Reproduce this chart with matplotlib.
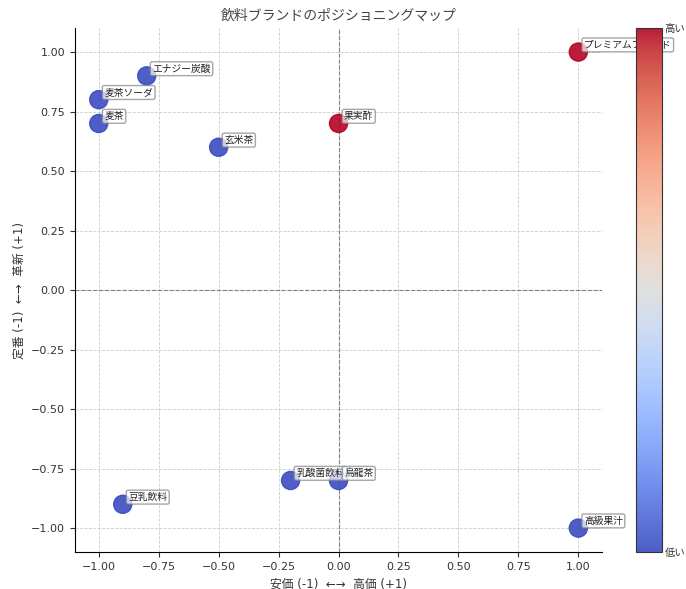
import numpy as np
import matplotlib
matplotlib.use("Agg")
import matplotlib.pyplot as plt

plt.rcParams['font.family'] = ['DejaVu Sans', 'Noto Sans CJK JP']

# データ
names = ["プレミアムブレンド", "果実酢", "玄米茶", "エナジー炭酸", "麦茶ソーダ",
         "麦茶", "乳酸菌飲料", "烏龍茶", "豆乳飲料", "高級果汁"]
x_vals = [1.0, 0.0, -0.5, -0.8, -1.0, -1.0, -0.2, 0.0, -0.9, 1.0]
y_vals = [1.0, 0.7, 0.6, 0.9, 0.8, 0.7, -0.8, -0.8, -0.9, -1.0]
scores = [1, 1, 0, 0, 0, 0, 0, 0, 0, 0]
x_ticks = [-1.0, -0.75, -0.5, -0.25, 0.0, 0.25, 0.5, 0.75, 1.0]
y_ticks = [-1.0, -0.75, -0.5, -0.25, 0.0, 0.25, 0.5, 0.75, 1.0]
cbar_labels = ["低い", "高い"]

fig = plt.figure(figsize=(6.86, 5.89), dpi=100)
ax = fig.add_axes([0.109, 0.063, 0.769, 0.889])
cax = fig.add_axes([0.927, 0.063, 0.038, 0.889])

ax.grid(True, linestyle='--', color='#cccccc', linewidth=0.6)
ax.set_axisbelow(True)
ax.axhline(0, color='gray', linestyle='--', linewidth=0.8)
ax.axvline(0, color='gray', linestyle='--', linewidth=0.8)

sc = ax.scatter(x_vals, y_vals, c=scores, cmap='coolwarm', s=170, alpha=0.9,
                vmin=0, vmax=1, zorder=3)

for name, xv, yv in zip(names, x_vals, y_vals):
    ax.annotate(name, (xv, yv), xytext=(4, 3), textcoords='offset points',
                fontsize=7, color='#222222', annotation_clip=False,
                bbox=dict(boxstyle='round,pad=0.2', fc='white', ec='gray', alpha=0.7),
                zorder=4)

ax.set_xlim(-1.1, 1.1)
ax.set_ylim(-1.1, 1.1)
ax.set_xticks(x_ticks)
ax.set_yticks(y_ticks)
ax.tick_params(labelsize=8, colors='#333333')
for s in ['top', 'right']:
    ax.spines[s].set_visible(False)

ax.set_title("飲料ブランドのポジショニングマップ", fontsize=10, color='#444444')
ax.set_xlabel("安価 (-1)  ←→  高価 (+1)", fontsize=8.5, color='#333333')
ax.set_ylabel("定番 (-1)  ←→  革新 (+1)", fontsize=8.5, color='#333333')

cbar = fig.colorbar(sc, cax=cax)
cbar.set_ticks([0, 1])
cbar.set_ticklabels(cbar_labels)
cbar.ax.tick_params(length=0, pad=2, labelsize=7.5, colors='#333333')
cbar.outline.set_edgecolor('#333333')

fig.savefig("out.png", dpi=100)
